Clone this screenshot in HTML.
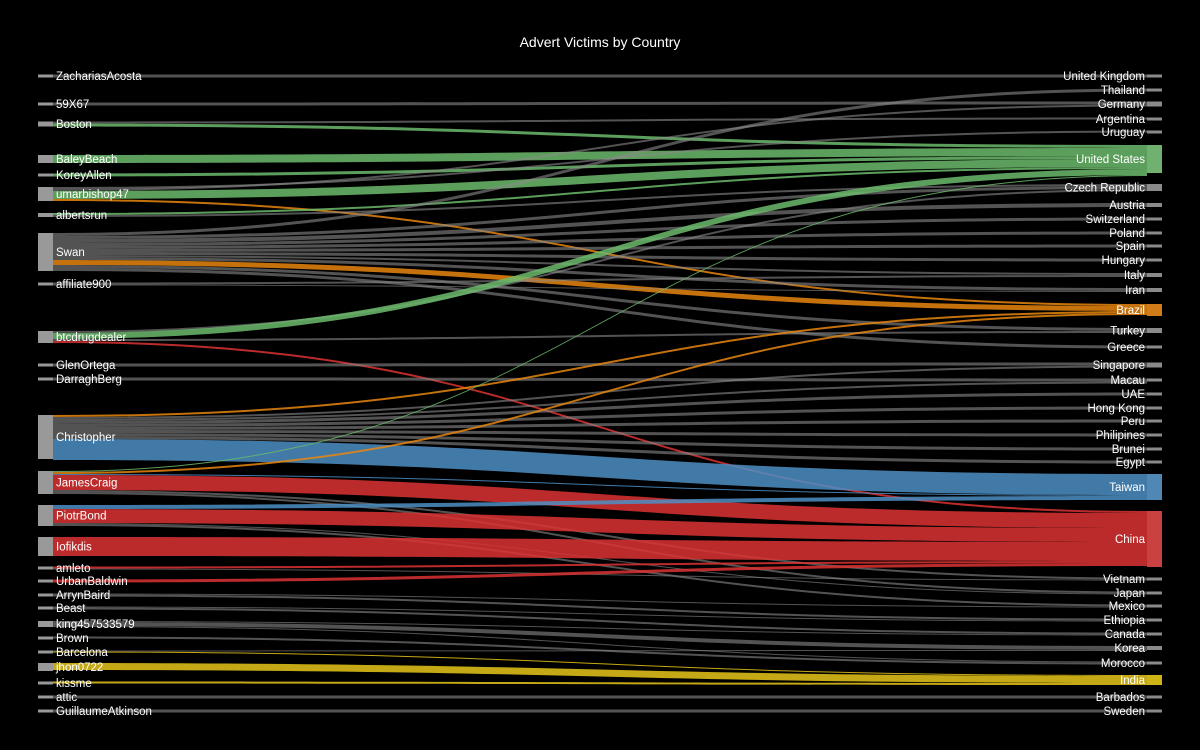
<!DOCTYPE html>
<html><head><meta charset="utf-8"><style>
html,body{margin:0;padding:0;background:#000;width:1200px;height:750px;overflow:hidden}
svg text{font-family:"Liberation Sans",sans-serif;font-size:11.5px;fill:#fff;}
</style></head><body>
<svg id="s" width="1200" height="750" xmlns="http://www.w3.org/2000/svg">
<rect width="1200" height="750" fill="#000"/>
<text x="600" y="47" text-anchor="middle" style="font-size:14px">Advert Victims by Country</text>
<g id="links"></g><g id="nodes"></g>
</svg>
<script>
var L=[["ZachariasAcosta",74.5,3],["59X67",102.5,3],["Boston",121.5,5],["BaleyBeach",155,8],["KoreyAllen",173.5,3],["umarbishop47",187,14],["albertsrun",213,4],["Swan",233,38],["affiliate900",282.5,3],["btcdrugdealer",331,12],["GlenOrtega",363.5,3],["DarraghBerg",377.5,3],["Christopher",415,44],["JamesCraig",471,23],["PiotrBond",505,21],["Iofikdis",537,19],["amleto",566.5,3],["UrbanBaldwin",579.5,3],["ArrynBaird",593.5,3],["Beast",606.5,3],["king457533579",621,6],["Brown",636.5,3],["Barcelona",650.5,3],["jhon0722",663,8],["kissme",681.5,3],["attic",695.5,3],["GuillaumeAtkinson",709.5,3]];
var R=[["United Kingdom",74.5,3,"#999"],["Thailand",88.5,3,"#999"],["Germany",101.5,5,"#999"],["Argentina",117.5,3,"#999"],["Uruguay",130.5,3,"#999"],["United States",145,28,"#7cc47c"],["Czech Republic",184,7,"#999"],["Austria",203,4,"#999"],["Switzerland",217.5,3,"#999"],["Poland",231.5,3,"#999"],["Spain",244.5,3,"#999"],["Hungary",258.5,3,"#999"],["Italy",273,4,"#999"],["Iran",288,4,"#999"],["Brazil",304,12,"#e88a1a"],["Turkey",328,5,"#999"],["Greece",345.5,3,"#999"],["Singapore",362.5,5,"#999"],["Macau",378.5,3,"#999"],["UAE",392.5,3,"#999"],["Hong Kong",406.5,3,"#999"],["Peru",419.5,3,"#999"],["Philipines",433.5,3,"#999"],["Brunei",447.5,3,"#999"],["Egypt",460.5,3,"#999"],["Taiwan",474,26,"#5a96c8"],["China",511,56,"#e04848"],["Vietnam",577.5,3,"#999"],["Japan",591.5,3,"#999"],["Mexico",604.5,3,"#999"],["Ethiopia",618.5,3,"#999"],["Canada",632.5,3,"#999"],["Korea",646,4,"#999"],["Morocco",661.5,3,"#999"],["India",675,10,"#e6c619"],["Barbados",695.5,3,"#999"],["Sweden",709.5,3,"#999"]];
var G="#8a8a8a",GR="#6cbb6c",O="#e8860e",RD="#dd3333",B="#4d8fc4",Y="#e6c619";
var K=[
["ZachariasAcosta","United Kingdom",3,G],["59X67","Germany",3,G],
["Boston","Argentina",2,G],["Boston","United States",3,GR],
["BaleyBeach","United States",8,GR],["KoreyAllen","United States",3,GR],
["umarbishop47","Uruguay",2,G],["umarbishop47","Germany",2,G],["umarbishop47","United States",8,GR],["umarbishop47","Brazil",2,O],
["albertsrun","United States",2,GR],["albertsrun","Czech Republic",2,G],
["Swan","Thailand",3,G],["Swan","Czech Republic",3,G],["Swan","Austria",4,G],["Swan","Switzerland",3,G],["Swan","Poland",3,G],["Swan","Spain",3,G],["Swan","Hungary",3,G],["Swan","Italy",2,G],["Swan","Iran",3,G],["Swan","Brazil",5,O],["Swan","Turkey",3,G],["Swan","Greece",3,G],
["affiliate900","Italy",2,G],["affiliate900","Iran",1,G],
["btcdrugdealer","Czech Republic",2,G],["btcdrugdealer","United States",6,GR],["btcdrugdealer","Turkey",2,G],["btcdrugdealer","China",2,RD],
["GlenOrtega","Singapore",3,G],["DarraghBerg","Macau",3,G],
["Christopher","Brazil",2,O],["Christopher","Singapore",2,G],["Christopher","Macau",2,G],["Christopher","UAE",3,G],["Christopher","Hong Kong",3,G],["Christopher","Peru",3,G],["Christopher","Philipines",3,G],["Christopher","Brunei",3,G],["Christopher","Egypt",3,G],["Christopher","Taiwan",21,B],
["JamesCraig","United States",1,GR],["JamesCraig","Brazil",2,O],["JamesCraig","Taiwan",1,B],["JamesCraig","China",15,RD],["JamesCraig","Vietnam",2,G],["JamesCraig","Japan",2,G],
["PiotrBond","Taiwan",4,B],["PiotrBond","China",14,RD],["PiotrBond","Japan",1,G],["PiotrBond","Mexico",2,G],
["Iofikdis","China",19,RD],
["amleto","China",2,RD],["amleto","Vietnam",1,G],["UrbanBaldwin","China",3,RD],
["ArrynBaird","Mexico",1,G],["ArrynBaird","Ethiopia",2,G],["Beast","Ethiopia",1,G],["Beast","Canada",2,G],
["king457533579","Canada",1,G],["king457533579","Korea",4,G],["king457533579","Morocco",1,G],
["Brown","Morocco",2,G],["Barcelona","Korea",1,G],["Barcelona","India",1,Y],
["jhon0722","India",7,Y],["kissme","India",2,Y],["attic","Barbados",3,G],["GuillaumeAtkinson","Sweden",3,G]];
var ns="http://www.w3.org/2000/svg",lg=document.getElementById("links"),ng=document.getElementById("nodes");
var lm={},rm={};L.forEach(function(n){lm[n[0]]={y:n[1],h:n[2],o:0}});R.forEach(function(n){rm[n[0]]={y:n[1],h:n[2],o:0}});
var x0=53,x1=1147,xm=600;
K.forEach(function(k){var a=lm[k[0]],b=rm[k[1]],w=k[2];
var s=a.y+a.o,d=b.y+b.o;a.o+=w;b.o+=w;
var p=document.createElementNS(ns,"path");
p.setAttribute("d","M"+x0+","+s+"C"+xm+","+s+" "+xm+","+d+" "+x1+","+d+"L"+x1+","+(d+w)+"C"+xm+","+(d+w)+" "+xm+","+(s+w)+" "+x0+","+(s+w)+"Z");
p.setAttribute("fill",k[3]);p.setAttribute("fill-opacity",k[3]==G?"0.6":"0.85");lg.appendChild(p);});
function node(x,n,c,left){var r=document.createElementNS(ns,"rect");r.setAttribute("x",x);r.setAttribute("y",n[1]);r.setAttribute("width",15);r.setAttribute("height",n[2]);r.setAttribute("fill",c);r.setAttribute("fill-opacity","0.9");ng.appendChild(r);
var t=document.createElementNS(ns,"text");t.textContent=n[0];t.setAttribute("x",left?56:1145);t.setAttribute("y",n[1]+n[2]/2+4);if(!left)t.setAttribute("text-anchor","end");ng.appendChild(t);}
L.forEach(function(n){node(38,n,"#aaa",true)});R.forEach(function(n){node(1147,n,n[3],false)});
</script>
</body></html>
